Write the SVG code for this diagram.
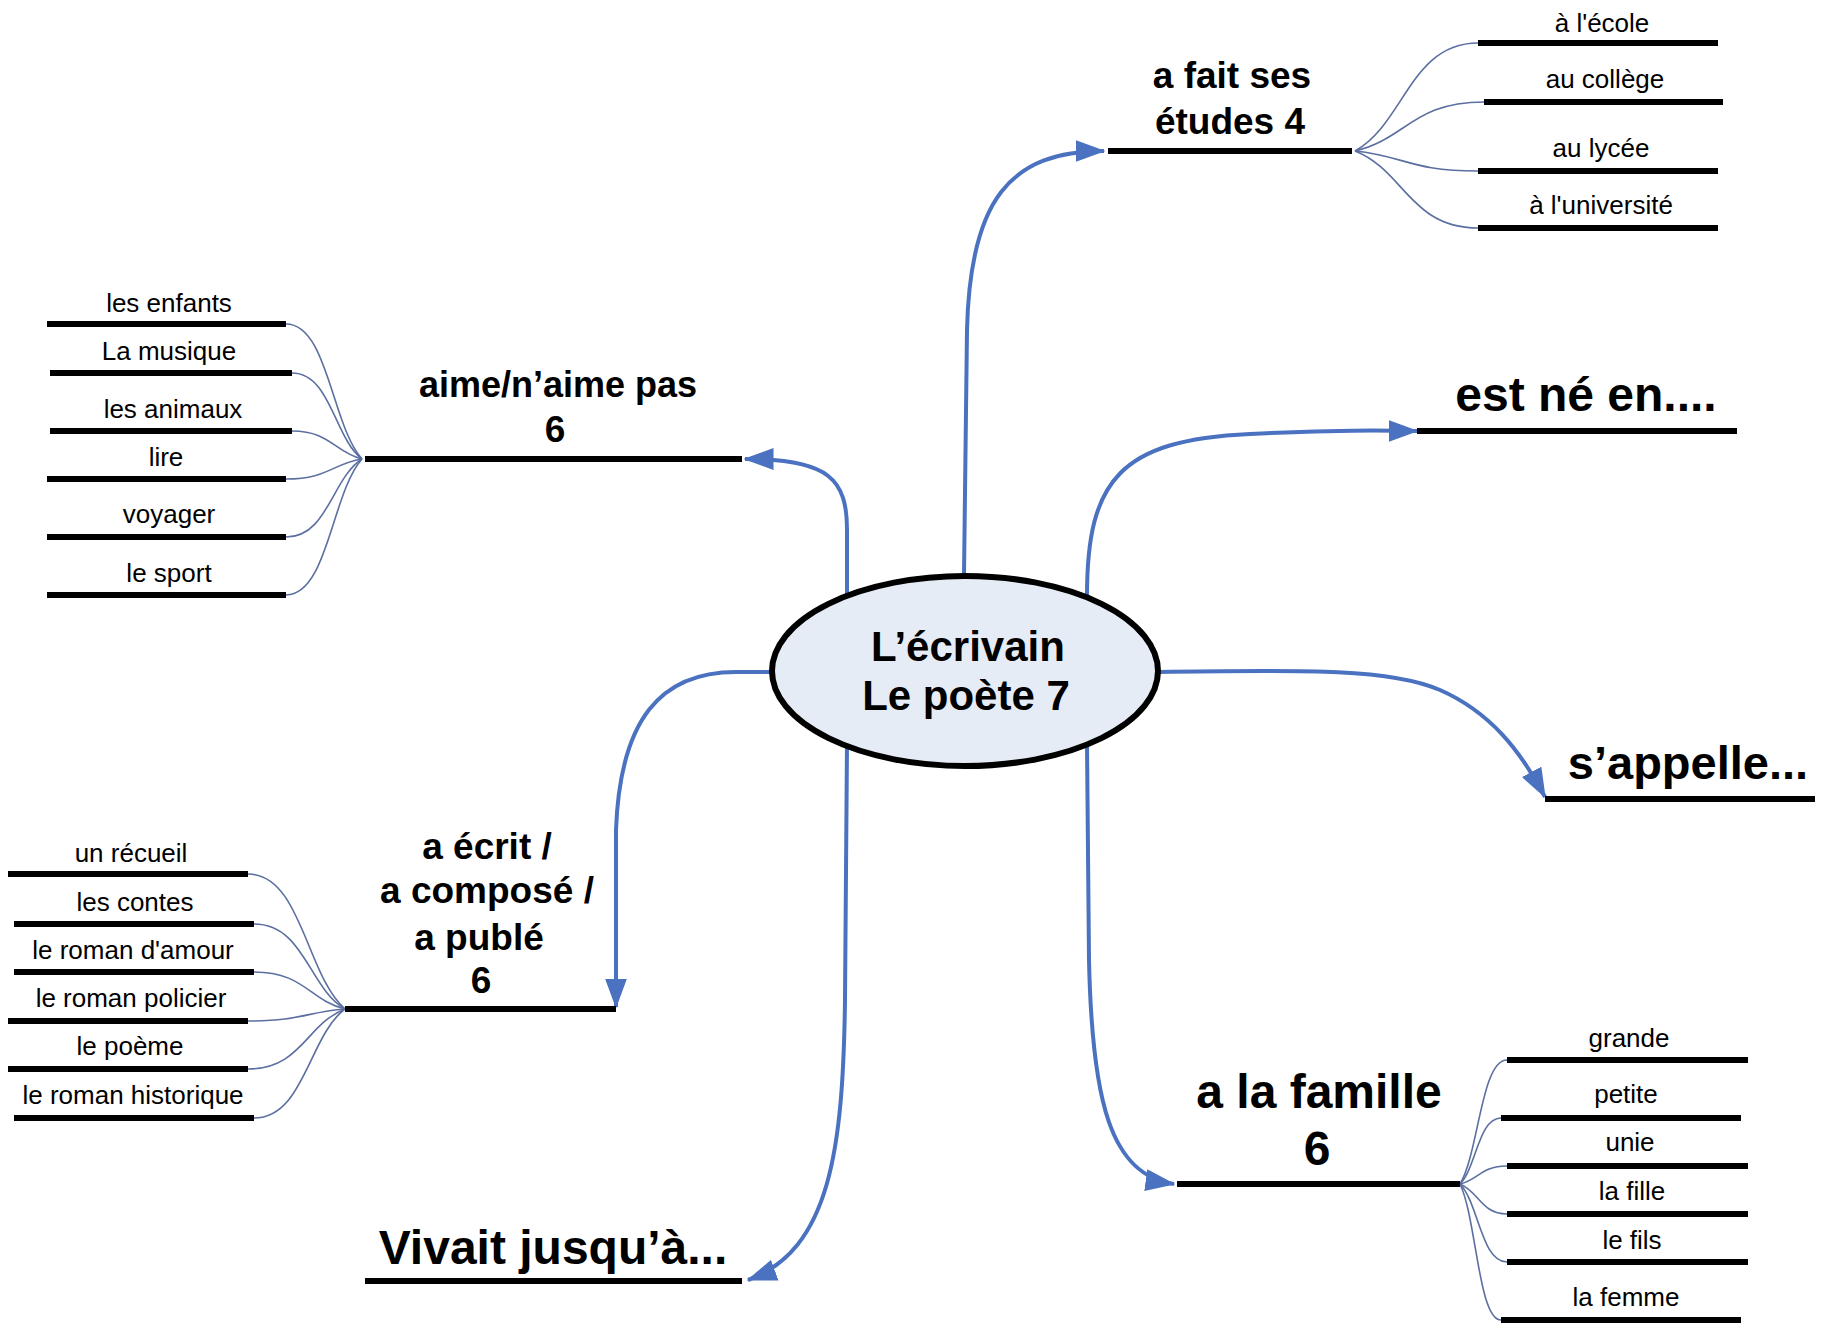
<svg xmlns="http://www.w3.org/2000/svg" width="1832" height="1329" viewBox="0 0 1832 1329">
<style>
text{font-family:"Liberation Sans",Arial,sans-serif;fill:#000;text-anchor:middle}
.b{font-weight:bold}
.s{font-size:26px}
.bl{stroke:#000;stroke-width:6;fill:none}
.con{stroke:#4a72c0;stroke-width:4;fill:none;marker-end:url(#ah)}
.fan{stroke:#5b6fa0;stroke-width:1.6;fill:none}
</style>
<defs>
<marker id="ah" viewBox="0 0 10 10" refX="9.5" refY="5" markerWidth="30" markerHeight="22" markerUnits="userSpaceOnUse" orient="auto" preserveAspectRatio="none">
<path d="M0,0 L10,5 L0,10 z" fill="#4a72c0"/>
</marker>
</defs>
<rect width="1832" height="1329" fill="#fff"/>

<g id="connectors">
<path class="con" d="M964,575 L967,330 C970,200 1010,151 1104,151"/>
<path class="con" d="M847,596 L847,530 C847,480 830,459 745,459"/>
<path class="con" d="M1087,596 C1087,480 1120,440 1250,434 S1380,431 1417,431"/>
<path class="con" d="M1158,672 C1300,670 1390,668 1440,690 C1490,712 1520,750 1545,797"/>
<path class="con" d="M1087,744 L1089,960 C1092,1100 1110,1175 1174,1184"/>
<path class="con" d="M847,744 L845,1000 C843,1150 830,1250 748,1280"/>
<path class="con" d="M771,672 L736,672 C660,672 620,720 616,830 L616,1007"/>
<g id="fan-etudes">
<path class="fan" d="M1355,151 C1404.2,124 1410.4,43 1478,43"/>
<path class="fan" d="M1355,151 C1406.6,138.75 1413,102 1484,102"/>
<path class="fan" d="M1355,151 C1404.2,156 1410.4,171 1478,171"/>
<path class="fan" d="M1355,151 C1404.2,170.25 1410.4,228 1478,228"/>
</g>
<g id="fan-aime">
<path class="fan" d="M362,459 C331.6,425.25 327.8,324 286,324"/>
<path class="fan" d="M362,459 C334,437.5 330.5,373 292,373"/>
<path class="fan" d="M362,459 C334,452 330.5,431 292,431"/>
<path class="fan" d="M362,459 C331.6,464 327.8,479 286,479"/>
<path class="fan" d="M362,459 C331.6,478.5 327.8,537 286,537"/>
<path class="fan" d="M362,459 C331.6,493 327.8,595 286,595"/>
</g>
<g id="fan-ecrit">
<path class="fan" d="M345,1009 C306.2,975.25 301.35,874 248,874"/>
<path class="fan" d="M345,1009 C308.6,987.75 304.05,924 254,924"/>
<path class="fan" d="M345,1009 C308.6,999.75 304.05,972 254,972"/>
<path class="fan" d="M345,1009 C306.2,1012 301.35,1021 248,1021"/>
<path class="fan" d="M345,1009 C306.2,1024 301.35,1069 248,1069"/>
<path class="fan" d="M345,1009 C308.6,1036.25 304.05,1118 254,1118"/>
</g>
<g id="fan-famille">
<path class="fan" d="M1460,1184 C1478.8,1153 1481.15,1060 1507,1060"/>
<path class="fan" d="M1460,1184 C1476.4,1167.5 1478.45,1118 1501,1118"/>
<path class="fan" d="M1460,1184 C1478.8,1179.5 1481.15,1166 1507,1166"/>
<path class="fan" d="M1460,1184 C1478.8,1191.5 1481.15,1214 1507,1214"/>
<path class="fan" d="M1460,1184 C1478.8,1203.5 1481.15,1262 1507,1262"/>
<path class="fan" d="M1460,1184 C1476.4,1218 1478.45,1320 1501,1320"/>
</g>
</g>

<g id="center">
<ellipse cx="965" cy="671" rx="193" ry="95" fill="#e6ecf6" stroke="#000" stroke-width="6"/>
<text class="b" x="968" y="661" font-size="42">L’écrivain</text>
<text class="b" x="966" y="710" font-size="42">Le poète 7</text>
</g>

<g id="etudes">
<line class="bl" x1="1108" y1="151" x2="1352" y2="151"/>
<text class="b" x="1232" y="88" font-size="37">a fait ses</text>
<text class="b" x="1230" y="134" font-size="37">études 4</text>
</g>
<g id="etudes-items">
<g id="ecole"><line class="bl" x1="1478" y1="43" x2="1718" y2="43"/><text class="s" x="1602" y="32">à l'école</text></g>
<g id="college"><line class="bl" x1="1484" y1="102" x2="1723" y2="102"/><text class="s" x="1605" y="88">au collège</text></g>
<g id="lycee"><line class="bl" x1="1478" y1="171" x2="1718" y2="171"/><text class="s" x="1601" y="157">au lycée</text></g>
<g id="universite"><line class="bl" x1="1478" y1="228" x2="1718" y2="228"/><text class="s" x="1601" y="214">à l'université</text></g>
</g>

<g id="aime">
<line class="bl" x1="365" y1="459" x2="742" y2="459"/>
<text class="b" x="558" y="397" font-size="36">aime/n’aime pas</text>
<text class="b" x="555" y="442" font-size="37">6</text>
</g>
<g id="aime-items">
<g id="enfants"><line class="bl" x1="47" y1="324" x2="286" y2="324"/><text class="s" x="169" y="312">les enfants</text></g>
<g id="musique"><line class="bl" x1="50" y1="373" x2="292" y2="373"/><text class="s" x="169" y="360">La musique</text></g>
<g id="animaux"><line class="bl" x1="50" y1="431" x2="292" y2="431"/><text class="s" x="173" y="418">les animaux</text></g>
<g id="lire"><line class="bl" x1="47" y1="479" x2="286" y2="479"/><text class="s" x="166" y="466">lire</text></g>
<g id="voyager"><line class="bl" x1="47" y1="537" x2="286" y2="537"/><text class="s" x="169" y="523">voyager</text></g>
<g id="sport"><line class="bl" x1="47" y1="595" x2="286" y2="595"/><text class="s" x="169" y="582">le sport</text></g>
</g>

<g id="ne">
<line class="bl" x1="1417" y1="431" x2="1737" y2="431"/>
<text class="b" x="1586" y="411" font-size="48">est né en....</text>
</g>

<g id="appelle">
<line class="bl" x1="1545" y1="799" x2="1815" y2="799"/>
<text class="b" x="1688" y="779" font-size="47">s’appelle...</text>
</g>

<g id="ecrit">
<line class="bl" x1="345" y1="1009" x2="616" y2="1009"/>
<text class="b" x="487" y="859" font-size="37">a écrit /</text>
<text class="b" x="487" y="903" font-size="37">a composé /</text>
<text class="b" x="479" y="950" font-size="37">a publé</text>
<text class="b" x="481" y="993" font-size="37">6</text>
</g>
<g id="ecrit-items">
<g id="recueil"><line class="bl" x1="8" y1="874" x2="248" y2="874"/><text class="s" x="131" y="862">un récueil</text></g>
<g id="contes"><line class="bl" x1="14" y1="924" x2="254" y2="924"/><text class="s" x="135" y="911">les contes</text></g>
<g id="amour"><line class="bl" x1="14" y1="972" x2="254" y2="972"/><text class="s" x="133" y="959">le roman d'amour</text></g>
<g id="policier"><line class="bl" x1="8" y1="1021" x2="248" y2="1021"/><text class="s" x="131" y="1007">le roman policier</text></g>
<g id="poeme"><line class="bl" x1="8" y1="1069" x2="248" y2="1069"/><text class="s" x="130" y="1055">le poème</text></g>
<g id="historique"><line class="bl" x1="14" y1="1118" x2="254" y2="1118"/><text class="s" x="133" y="1104">le roman historique</text></g>
</g>

<g id="vivait">
<line class="bl" x1="365" y1="1281" x2="742" y2="1281"/>
<text class="b" x="553" y="1264" font-size="48">Vivait jusqu’à...</text>
</g>

<g id="famille">
<line class="bl" x1="1177" y1="1184" x2="1460" y2="1184"/>
<text class="b" x="1319" y="1108" font-size="48">a la famille</text>
<text class="b" x="1317" y="1165" font-size="48">6</text>
</g>
<g id="famille-items">
<g id="grande"><line class="bl" x1="1507" y1="1060" x2="1748" y2="1060"/><text class="s" x="1629" y="1047">grande</text></g>
<g id="petite"><line class="bl" x1="1501" y1="1118" x2="1741" y2="1118"/><text class="s" x="1626" y="1103">petite</text></g>
<g id="unie"><line class="bl" x1="1507" y1="1166" x2="1748" y2="1166"/><text class="s" x="1630" y="1151">unie</text></g>
<g id="fille"><line class="bl" x1="1507" y1="1214" x2="1748" y2="1214"/><text class="s" x="1632" y="1200">la fille</text></g>
<g id="fils"><line class="bl" x1="1507" y1="1262" x2="1748" y2="1262"/><text class="s" x="1632" y="1249">le fils</text></g>
<g id="femme"><line class="bl" x1="1501" y1="1320" x2="1741" y2="1320"/><text class="s" x="1626" y="1306">la femme</text></g>
</g>
</svg>
